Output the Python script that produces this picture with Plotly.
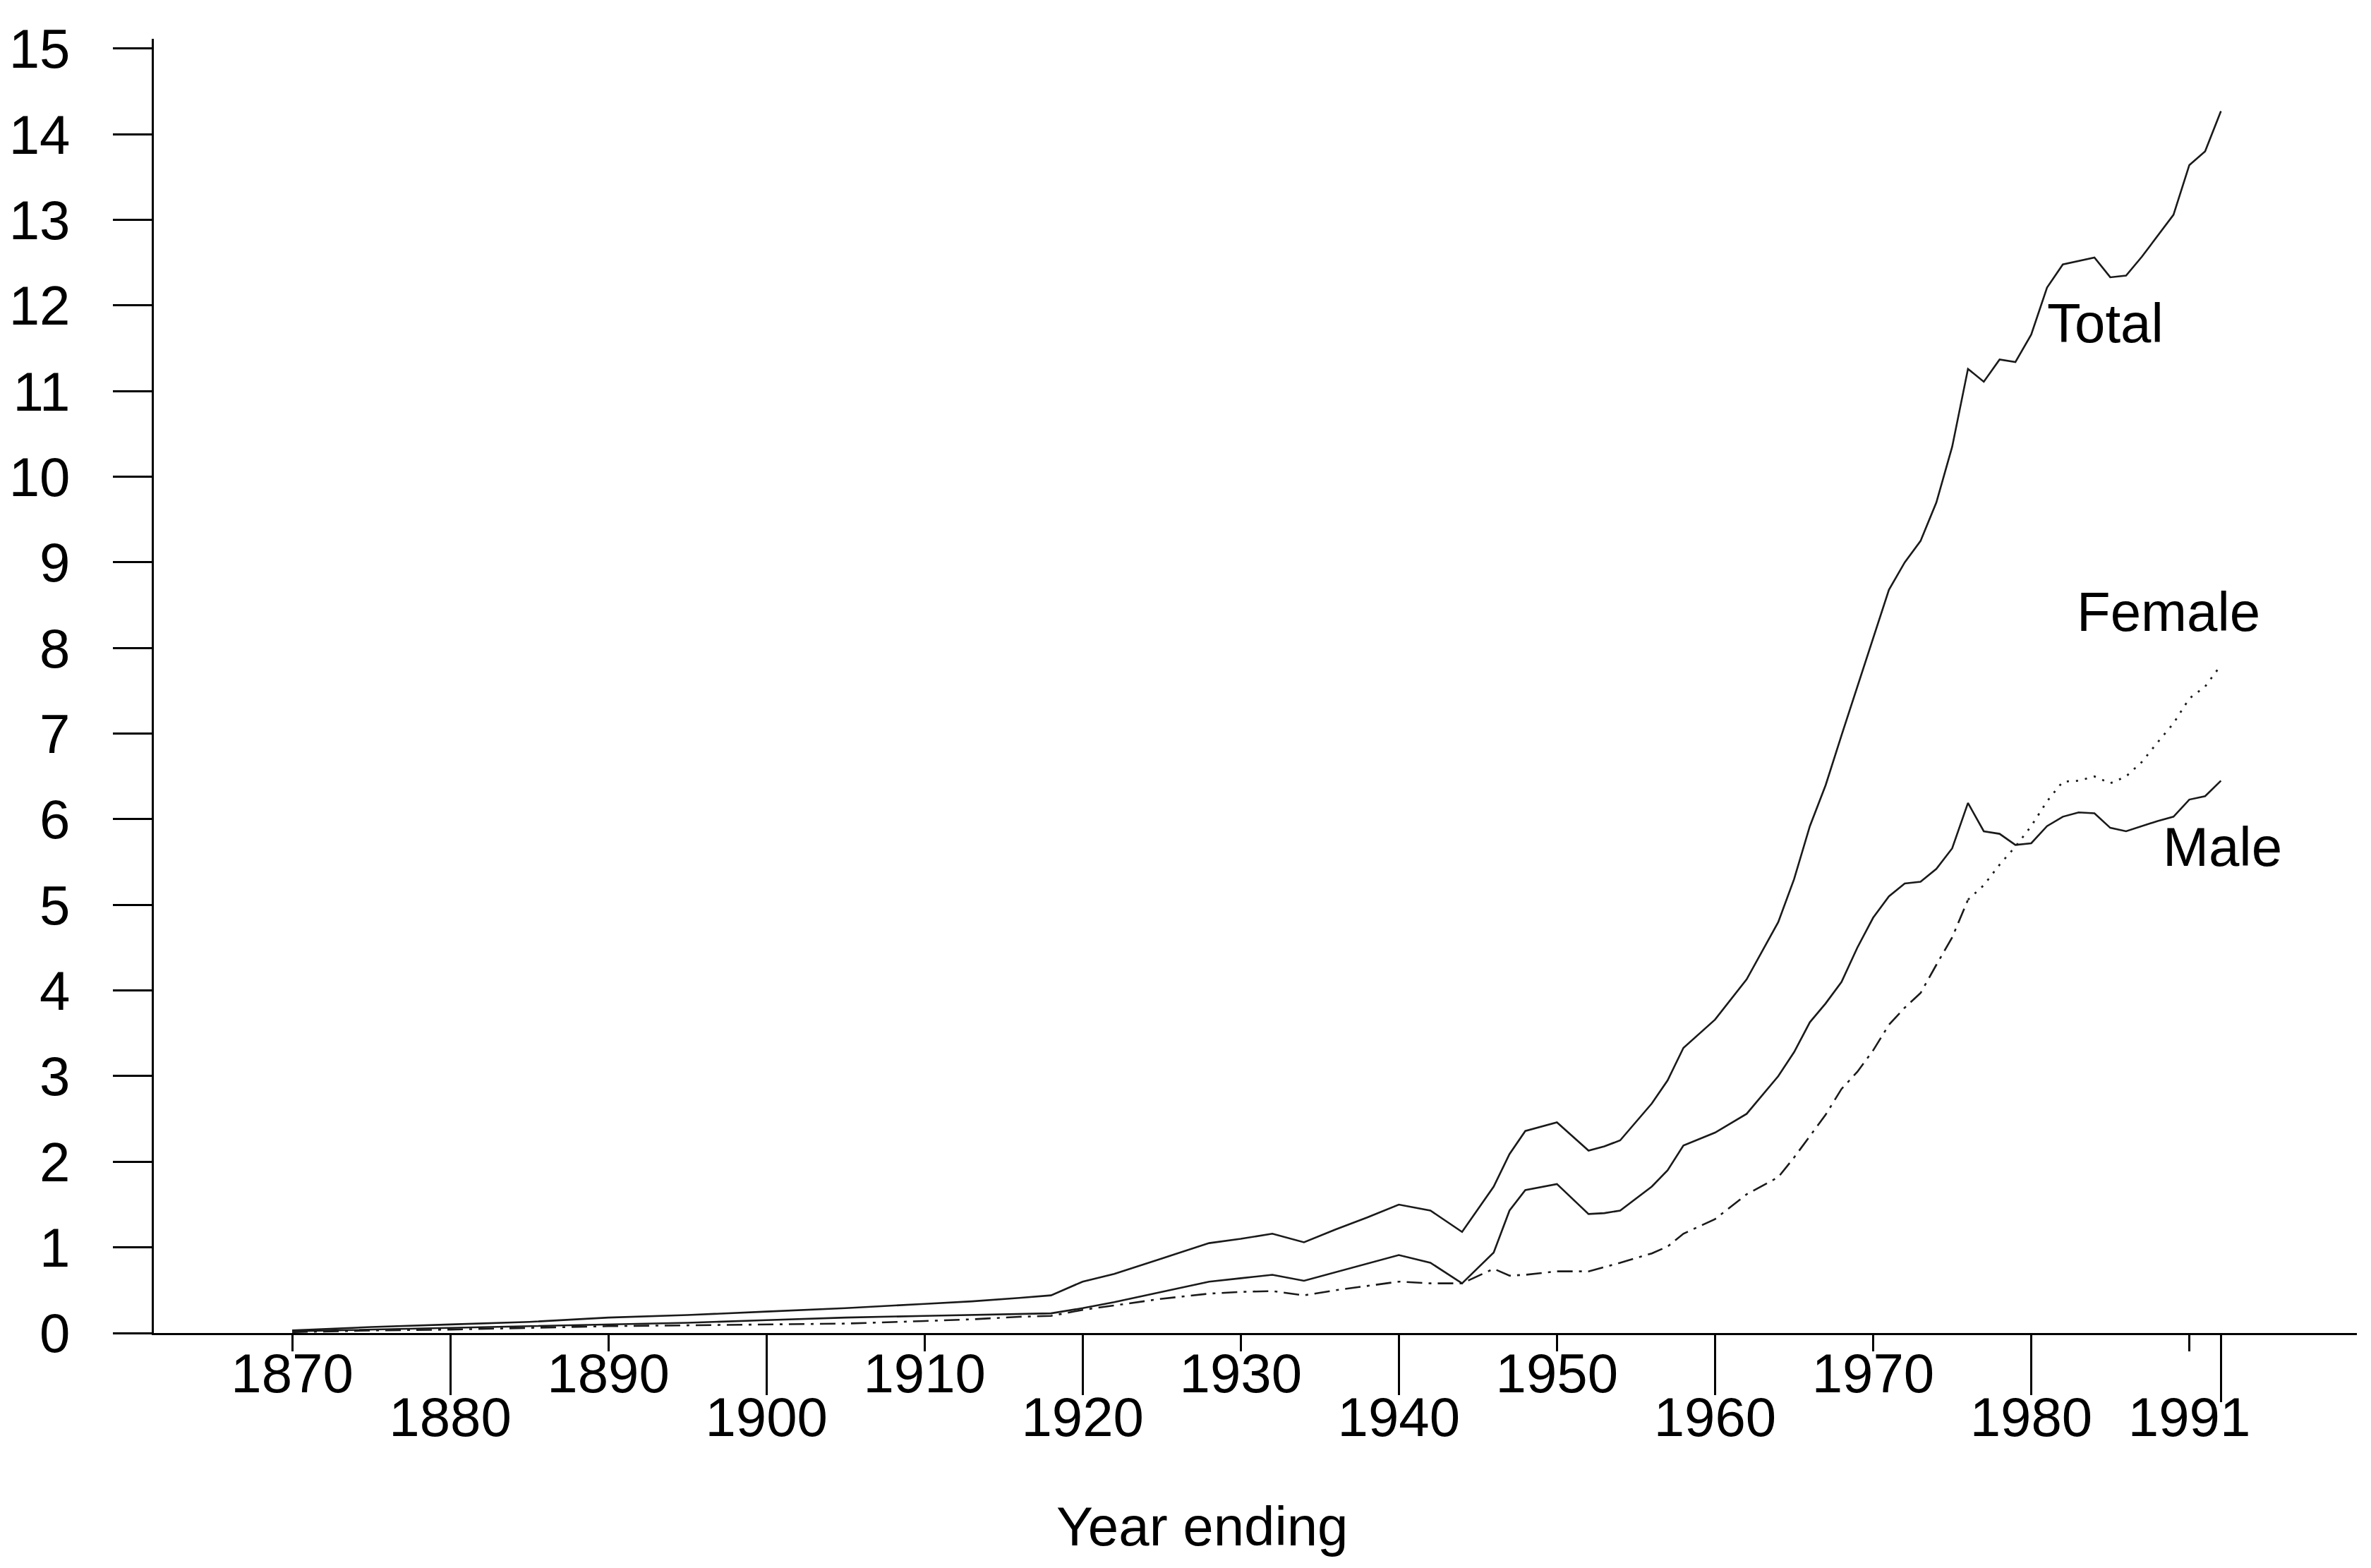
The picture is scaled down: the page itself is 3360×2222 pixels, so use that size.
import plotly.graph_objects as go

# ---- data ----
years = [1870, 1875, 1880, 1885, 1890, 1895, 1900, 1905, 1910, 1913, 1916, 1918,
         1920, 1922, 1925, 1928, 1930, 1932, 1934, 1936, 1938, 1940, 1942, 1944,
         1946, 1947, 1948, 1950, 1952, 1953, 1954, 1956, 1957, 1958, 1960, 1962,
         1964, 1965, 1966, 1967, 1968, 1969, 1970, 1971, 1972, 1973, 1974, 1975,
         1976, 1977, 1978, 1979, 1980, 1981, 1982, 1983, 1984, 1985, 1986, 1987,
         1988, 1989, 1990, 1991, 1992]

total = [0.03, 0.07, 0.10, 0.13, 0.18, 0.21, 0.25, 0.29, 0.34, 0.37, 0.41, 0.44,
         0.60, 0.69, 0.87, 1.05, 1.10, 1.16, 1.06, 1.21, 1.35, 1.50, 1.43, 1.18,
         1.71, 2.09, 2.36, 2.46, 2.13, 2.18, 2.25, 2.68, 2.95, 3.33, 3.66, 4.13,
         4.80, 5.30, 5.92, 6.40, 6.98, 7.55, 8.12, 8.68, 9.00, 9.25, 9.70, 10.35,
         11.26, 11.11, 11.37, 11.34, 11.66, 12.21, 12.48, 12.52, 12.56, 12.33, 12.35, 12.57,
         12.82, 13.06, 13.64, 13.80, 14.27]

male = [0.02, 0.04, 0.06, 0.08, 0.10, 0.12, 0.15, 0.18, 0.20, 0.21, 0.22, 0.23,
        0.29, 0.36, 0.48, 0.60, 0.64, 0.68, 0.61, 0.71, 0.81, 0.91, 0.82, 0.58,
        0.94, 1.43, 1.67, 1.74, 1.39, 1.40, 1.43, 1.71, 1.90, 2.19, 2.34, 2.56,
        3.00, 3.28, 3.63, 3.85, 4.10, 4.50, 4.85, 5.10, 5.25, 5.27, 5.42, 5.66,
        6.19, 5.86, 5.83, 5.70, 5.72, 5.92, 6.03, 6.08, 6.07, 5.90, 5.86, 5.92,
        5.98, 6.03, 6.23, 6.27, 6.45]

female = [0.01, 0.03, 0.04, 0.06, 0.08, 0.09, 0.10, 0.11, 0.14, 0.16, 0.19, 0.20,
          0.27, 0.32, 0.40, 0.46, 0.48, 0.49, 0.44, 0.50, 0.55, 0.60, 0.58, 0.58,
          0.75, 0.67, 0.68, 0.72, 0.72, 0.77, 0.82, 0.93, 1.01, 1.16, 1.33, 1.62,
          1.82, 2.05, 2.30, 2.55, 2.85, 3.05, 3.30, 3.60, 3.80, 3.97, 4.30, 4.62,
          5.06, 5.23, 5.47, 5.68, 5.92, 6.21, 6.44, 6.45, 6.50, 6.42, 6.50, 6.67,
          6.90, 7.12, 7.41, 7.55, 7.80]

series_labels = ["Total", "Female", "Male"]
label_pos = {"Total": (1984.7, 11.79), "Female": (1988.7, 8.42), "Male": (1992.1, 5.68)}

y_ticks = list(range(0, 16))
x_ticks_row1 = [1870, 1890, 1910, 1930, 1950, 1970]
x_ticks_row2 = [1880, 1900, 1920, 1940, 1960, 1980]
last_label = "1991"

# ---- styling ----
FONT = "Liberation Sans, Arial, sans-serif"
FS = 78
LINE_COL = "#1a1a1a"
XR = [1861.25, 2000.6]
LBL_SHIFT = -36

split = years.index(1976)

fig = go.Figure()
fig.add_trace(go.Scatter(x=years, y=total, mode="lines",
                         line=dict(color=LINE_COL, width=2.6), showlegend=False))
fig.add_trace(go.Scatter(x=years, y=male, mode="lines",
                         line=dict(color=LINE_COL, width=2.6), showlegend=False))
fig.add_trace(go.Scatter(x=years[:split + 1], y=female[:split + 1], mode="lines",
                         line=dict(color=LINE_COL, width=2.6, dash="22px,9px,4px,9px"),
                         showlegend=False))
fig.add_trace(go.Scatter(x=years[split:], y=female[split:], mode="lines",
                         line=dict(color=LINE_COL, width=2.8, dash="3px,10px"),
                         showlegend=False))
# empty traces so that the overlay tick axes get drawn
for ax in ["x2", "x3", "x4"]:
    fig.add_trace(go.Scatter(x=[], y=[], xaxis=ax, yaxis="y", mode="lines",
                             showlegend=False, hoverinfo="skip"))

common_x = dict(range=XR, showgrid=False, zeroline=False, ticks="outside",
                tickwidth=3, tickcolor="black", ticklabelstandoff=LBL_SHIFT,
                automargin=False,
                tickfont=dict(family=FONT, size=FS, color="black"))

fig.update_layout(
    width=3360, height=2222,
    margin=dict(l=210, r=28, t=47, b=341, autoexpand=False),
    paper_bgcolor="white", plot_bgcolor="white",
    font=dict(family=FONT, size=FS, color="black"),
    xaxis=dict(**common_x, showline=True, linecolor="black", linewidth=3,
               ticklen=23,
               tickvals=x_ticks_row1 + [1990],
               ticktext=[str(v) for v in x_ticks_row1] + [""]),
    xaxis2=dict(**common_x, overlaying="x", anchor="y", side="bottom",
                showline=False, ticklen=87,
                tickvals=x_ticks_row2, ticktext=[str(v) for v in x_ticks_row2]),
    xaxis3=dict(**{**common_x, "tickcolor": "rgba(0,0,0,0)"}, overlaying="x",
                anchor="y", side="bottom", showline=False, ticklen=87,
                tickvals=[1990], ticktext=[last_label]),
    xaxis4=dict(**common_x, overlaying="x", anchor="y", side="bottom",
                showline=False, ticklen=97, tickvals=[1992], ticktext=[""]),
    yaxis=dict(range=[0, 15.115], showgrid=False, zeroline=False,
               showline=True, linecolor="black", linewidth=3,
               ticks="outside", ticklen=55, tickwidth=3, tickcolor="black",
               tickvals=y_ticks, ticktext=[str(v) for v in y_ticks],
               ticklabelstandoff=45, automargin=False,
               tickfont=dict(family=FONT, size=FS, color="black")),
)

for name in series_labels:
    x0, y0 = label_pos[name]
    fig.add_annotation(x=x0, y=y0, xref="x", yref="y", text=name, showarrow=False,
                       xanchor="center", yanchor="middle",
                       font=dict(family=FONT, size=FS, color="black"))

fig.add_annotation(x=0.476, y=-0.1494, xref="paper", yref="paper",
                   text="Year ending", showarrow=False,
                   xanchor="center", yanchor="middle",
                   font=dict(family=FONT, size=FS, color="black"))

fig.write_html("out.html")
